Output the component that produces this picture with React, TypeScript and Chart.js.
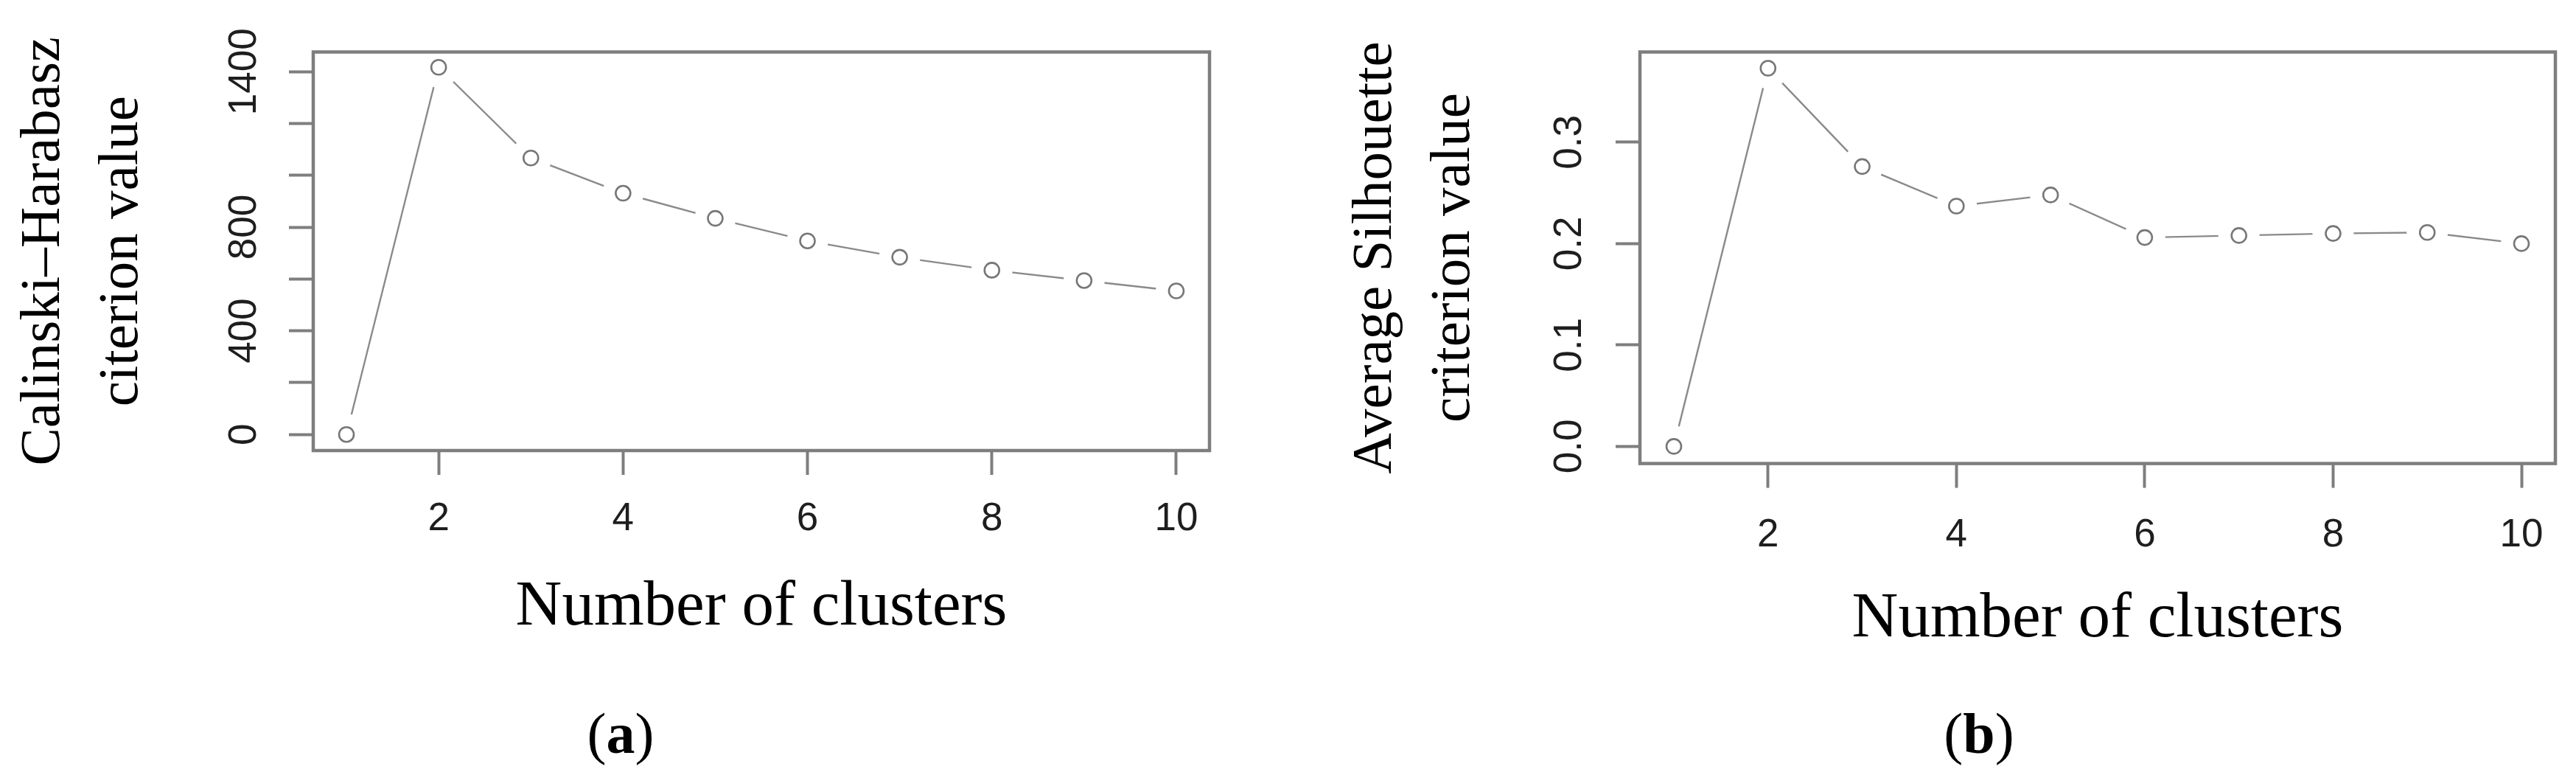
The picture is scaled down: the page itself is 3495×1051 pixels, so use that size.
import React, { useEffect, useRef } from "react";
import { Chart, registerables } from "chart.js";

Chart.register(...registerables);

// ---------- data ----------
const clusters = [1, 2, 3, 4, 5, 6, 7, 8, 9, 10];
const calinskiValues = [0, 1417, 1067, 931, 834, 747, 684, 634, 594, 554];
const silhouetteValues = [0, 0.373, 0.276, 0.237, 0.248, 0.206, 0.208, 0.21, 0.211, 0.2];

const xTickValues = [2, 4, 6, 8, 10];
const calinskiTickValues = [0, 200, 400, 600, 800, 1000, 1200, 1400];
const calinskiTickLabels = ["0", "", "400", "", "800", "", "", "1400"];
const silhouetteTickValues = [0, 0.1, 0.2, 0.3];
const silhouetteTickLabels = ["0.0", "0.1", "0.2", "0.3"];

const xTitle = "Number of clusters";
const calinskiTitle = ["Calinski\u2013Harabasz", "citerion value"];
const silhouetteTitle = ["Average Silhouette", "criterion value"];
const captionLetters = ["a", "b"];

// ---------- styles ----------
const PAGE_W = 3495;
const PAGE_H = 1051;
const FRAME = "#7e7e7e";
const LINE = "#8a8a8a";
const POINT = "#777777";
const TICK_FONT = { family: "'Liberation Sans', Arial, sans-serif", size: 53 };
const SERIF = "'Liberation Serif', 'Times New Roman', serif";

type PanelProps = {
  values: number[];
  yTicks: number[];
  yLabels: string[];
  yTitle: string[];
  xMin: number;
  xMax: number;
  yMin: number;
  yMax: number;
  canvasLeft: number;
  canvasWidth: number;
  areaLeft: number;
  areaRight: number;
  areaTop: number;
  areaBottom: number;
  yTitlePad: number;
  yLabelPad: number;
  xLabelPad: number;
  xTitlePad: number;
};

const framePlugin = {
  id: "frameBox",
  afterDatasetsDraw(chart: any) {
    const { ctx, chartArea: a } = chart;
    ctx.save();
    ctx.strokeStyle = FRAME;
    ctx.lineWidth = 4.5;
    ctx.strokeRect(a.left, a.top, a.right - a.left, a.bottom - a.top);
    ctx.restore();
  },
};

function Panel(p: PanelProps) {
  const ref = useRef<HTMLCanvasElement | null>(null);

  useEffect(() => {
    if (!ref.current) return;
    const pts = clusters.map((c, i) => ({ x: c, y: p.values[i] }));
    const gridOpts = {
      display: true,
      drawOnChartArea: false,
      drawTicks: true,
      tickLength: 33,
      tickWidth: 4,
      tickColor: FRAME,
    };
    const chart = new Chart(ref.current, {
      type: "line",
      data: {
        datasets: [
          {
            data: pts,
            borderColor: LINE,
            borderWidth: 2.4,
            pointRadius: 0,
            tension: 0,
            order: 3,
          },
          {
            data: pts,
            showLine: false,
            pointRadius: 28,
            pointBackgroundColor: "#ffffff",
            pointBorderColor: "#ffffff",
            pointBorderWidth: 0,
            order: 2,
          },
          {
            data: pts,
            showLine: false,
            pointRadius: 10,
            pointBackgroundColor: "rgba(255,255,255,0)",
            pointBorderColor: POINT,
            pointBorderWidth: 2.6,
            order: 1,
          },
        ],
      },
      options: {
        animation: false,
        responsive: false,
        events: [],
        layout: {
          padding: {
            left: 0,
            top: p.areaTop,
            right: p.canvasWidth - p.areaRight,
            bottom: 0,
          },
        },
        plugins: {
          legend: { display: false },
          tooltip: { enabled: false },
        },
        scales: {
          x: {
            type: "linear",
            position: "bottom",
            min: p.xMin,
            max: p.xMax,
            afterBuildTicks: (s: any) => {
              s.ticks = xTickValues.map((v) => ({ value: v }));
            },
            afterFit: (s: any) => {
              s.height = PAGE_H - p.areaBottom;
            },
            grid: gridOpts,
            border: { display: false },
            ticks: {
              autoSkip: false,
              minRotation: 0,
              maxRotation: 0,
              padding: p.xLabelPad,
              color: "#1e1e1e",
              font: TICK_FONT,
              callback: (v: any) => String(v),
            },
            title: {
              display: true,
              text: xTitle,
              color: "#000000",
              font: { family: SERIF, size: 87 },
              padding: { top: 0, bottom: p.xTitlePad },
            },
          },
          y: {
            type: "linear",
            position: "left",
            min: p.yMin,
            max: p.yMax,
            afterBuildTicks: (s: any) => {
              s.ticks = p.yTicks.map((v) => ({ value: v }));
            },
            afterFit: (s: any) => {
              s.width = p.areaLeft - p.canvasLeft;
            },
            grid: gridOpts,
            border: { display: false },
            ticks: {
              autoSkip: false,
              minRotation: 90,
              maxRotation: 90,
              crossAlign: "center",
              padding: p.yLabelPad,
              color: "#1e1e1e",
              font: TICK_FONT,
              callback: (_v: any, i: number) => p.yLabels[i] ?? "",
            },
            title: {
              display: true,
              text: p.yTitle,
              color: "#000000",
              font: { family: SERIF, size: 77, lineHeight: "106px" },
              padding: { top: p.yTitlePad, bottom: 0 },
            },
          },
        },
      } as any,
      plugins: [framePlugin],
    });
    return () => chart.destroy();
  }, []);

  return (
    <canvas
      ref={ref}
      width={p.canvasWidth}
      height={PAGE_H}
      style={{
        position: "absolute",
        left: p.canvasLeft,
        top: 0,
        width: p.canvasWidth,
        height: PAGE_H,
      }}
    />
  );
}

function Caption({ letter, center }: { letter: string; center: number }) {
  return (
    <div
      style={{
        position: "absolute",
        left: center - 150,
        width: 300,
        top: 956,
        textAlign: "center",
        fontFamily: SERIF,
        fontSize: 78,
        lineHeight: 1,
        color: "#000",
      }}
    >
      (<b>{letter}</b>)
    </div>
  );
}

export default function App() {
  return (
    <div
      style={{
        position: "absolute",
        left: 0,
        top: 0,
        width: PAGE_W,
        height: PAGE_H,
        background: "#ffffff",
        overflow: "hidden",
      }}
    >
      <Panel
        values={calinskiValues}
        yTicks={calinskiTickValues}
        yLabels={calinskiTickLabels}
        yTitle={calinskiTitle}
        xMin={0.64}
        xMax={10.36}
        yMin={-62}
        yMax={1476}
        canvasLeft={0}
        canvasWidth={1720}
        areaLeft={425}
        areaRight={1641}
        areaTop={70.5}
        areaBottom={611}
        yTitlePad={7}
        yLabelPad={1}
        xLabelPad={29}
        xTitlePad={175}
      />
      <Panel
        values={silhouetteValues}
        yTicks={silhouetteTickValues}
        yLabels={silhouetteTickLabels}
        yTitle={silhouetteTitle}
        xMin={0.64}
        xMax={10.36}
        yMin={-0.0169}
        yMax={0.389}
        canvasLeft={1720}
        canvasWidth={1775}
        areaLeft={2225}
        areaRight={3478}
        areaTop={70.5}
        areaBottom={628.6}
        yTitlePad={94}
        yLabelPad={25}
        xLabelPad={33}
        xTitlePad={159}
      />
      <Caption letter={captionLetters[0]} center={842} />
      <Caption letter={captionLetters[1]} center={2685} />
    </div>
  );
}
